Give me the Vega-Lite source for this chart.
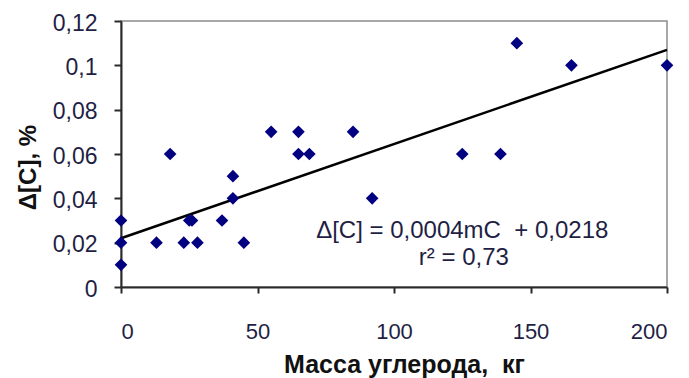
{
  "$schema": "https://vega.github.io/schema/vega-lite/v6.json",
  "width": 546,
  "height": 266,
  "autosize": {"type": "none"},
  "padding": {"left": 121, "top": 21, "right": 22, "bottom": 91},
  "background": "white",
  "config": {
    "font": "Liberation Sans",
    "view": {"stroke": "#8c8c8c", "strokeWidth": 1.5},
    "axis": {"grid": false, "domainColor": "#2a2a2a", "domainWidth": 2, "tickColor": "#2a2a2a", "tickWidth": 2, "labelColor": "#1f1f45", "labelFont": "Liberation Sans", "titleColor": "#111111", "titleFont": "Liberation Sans"}
  },
  "datasets": {
    "pts": [
      {"m": 0, "dc": 0.03}, {"m": 0, "dc": 0.02}, {"m": 0, "dc": 0.01},
      {"m": 13, "dc": 0.02}, {"m": 18, "dc": 0.06}, {"m": 23, "dc": 0.02},
      {"m": 25, "dc": 0.03}, {"m": 26, "dc": 0.03}, {"m": 28, "dc": 0.02},
      {"m": 37, "dc": 0.03}, {"m": 41, "dc": 0.05}, {"m": 41, "dc": 0.04},
      {"m": 45, "dc": 0.02}, {"m": 55, "dc": 0.07}, {"m": 65, "dc": 0.07},
      {"m": 65, "dc": 0.06}, {"m": 69, "dc": 0.06}, {"m": 85, "dc": 0.07},
      {"m": 92, "dc": 0.04}, {"m": 125, "dc": 0.06}, {"m": 139, "dc": 0.06},
      {"m": 145, "dc": 0.11}, {"m": 165, "dc": 0.1}, {"m": 200, "dc": 0.1}
    ],
    "fit": [{"m": 0, "dc": 0.022}, {"m": 200, "dc": 0.107}],
    "labels": [
      {"m": 125, "dc": 0.0221, "t": "Δ[C] = 0,0004mC \u00a0+ 0,0218"},
      {"m": 125.6, "dc": 0.0099, "t": "r² = 0,73"}
    ]
  },
  "layer": [
    {
      "data": {"name": "fit"},
      "mark": {"type": "line", "color": "#000000", "strokeWidth": 2.5},
      "encoding": {
        "x": {"field": "m", "type": "quantitative", "scale": {"domain": [0, 200], "nice": false},
          "axis": {"values": [0, 50, 100, 150, 200], "tickSize": 6, "labelPadding": 45, "labelBaseline": "alphabetic", "labelFontSize": 22,
            "title": "Масса углерода, \u00a0кг", "titleFontSize": 25, "titleFontWeight": "bold", "titleX": 283, "titleY": 85, "titleBaseline": "alphabetic", "titleAlign": "center"}},
        "y": {"field": "dc", "type": "quantitative", "scale": {"domain": [0, 0.12], "nice": false},
          "axis": {"values": [0, 0.02, 0.04, 0.06, 0.08, 0.1, 0.12], "labelExpr": "replace(format(datum.value, ''), '.', ',')", "tickSize": 7, "labelPadding": 17, "labelFontSize": 23, "labelOffset": 2,
            "title": "Δ[C], %", "titleFontSize": 24, "titleFontWeight": "bold", "titleX": -86, "titleY": 146, "titleBaseline": "alphabetic", "titleAngle": -90, "titleAlign": "center"}}
      }
    },
    {
      "data": {"name": "pts"},
      "mark": {"type": "point", "shape": "diamond", "filled": true, "color": "#000080", "size": 160, "opacity": 1},
      "encoding": {
        "x": {"field": "m", "type": "quantitative"},
        "y": {"field": "dc", "type": "quantitative"}
      }
    },
    {
      "data": {"name": "labels"},
      "mark": {"type": "text", "fontSize": 24, "align": "center", "baseline": "alphabetic", "color": "#1f1f45", "font": "Liberation Sans"},
      "encoding": {
        "x": {"field": "m", "type": "quantitative"},
        "y": {"field": "dc", "type": "quantitative"},
        "text": {"field": "t"}
      }
    }
  ]
}
